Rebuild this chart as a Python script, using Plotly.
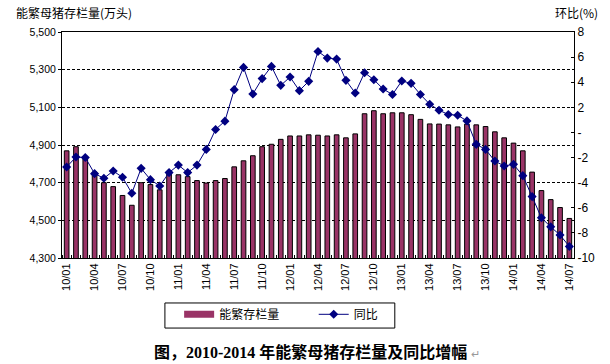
import plotly.graph_objects as go

# 能繁母猪存栏量 (万头), 2010/01 - 2014/07 monthly
HERD = [4869, 4891, 4838, 4757, 4700, 4679, 4632, 4580, 4700, 4690,
        4662, 4750, 4742, 4732, 4711, 4698, 4711, 4722, 4784, 4816,
        4843, 4891, 4904, 4930, 4948, 4948, 4954, 4952, 4948, 4954,
        4938, 4959, 5066, 5082, 5066, 5071, 5071, 5061, 5036, 5012,
        5011, 5007, 4996, 5011, 5007, 4998, 4970, 4938, 4910, 4869,
        4756, 4658, 4610, 4568, 4510]

# 环比 (%)
MOM = [-2.75, -1.96, -2.0, -3.28, -3.65, -3.07, -3.57, -4.84, -2.86, -3.76,
       -4.26, -3.2, -2.6, -3.2, -2.6, -1.35, 0.24, 0.9, 3.41, 5.18,
       3.06, 4.29, 5.26, 3.75, 4.41, 3.33, 4.07, 6.45, 5.92, 5.84,
       4.15, 3.14, 4.76, 4.2, 3.46, 3.02, 4.1, 3.91, 3.02, 2.25,
       1.77, 1.43, 1.37, 0.92, -0.95, -1.35, -2.28, -2.67, -2.54, -3.44,
       -5.11, -6.8, -7.52, -8.17, -9.08]

TICK_LABELS = ["10/01", "10/04", "10/07", "10/10", "11/01", "11/04", "11/07",
               "11/10", "12/01", "12/04", "12/07", "12/10", "13/01", "13/04",
               "13/07", "13/10", "14/01", "14/04", "14/07"]

LEFT_TICKS = [4300, 4500, 4700, 4900, 5100, 5300, 5500]
RIGHT_TICKS = [8, 6, 4, 2, 0, -2, -4, -6, -8, -10]
RIGHT_TEXT = ["8", "6", "4", "2", "-", "-2", "-4", "-6", "-8", "-10"]

BAR_NAME = "能繁存栏量"
LINE_NAME = "同比"

x = list(range(len(HERD)))
tickvals = x[::3]

BAR_COLOR = "#993366"
LINE_COLOR = "#000080"

fig = go.Figure()
fig.add_trace(go.Bar(
    x=x, y=HERD, name=BAR_NAME, showlegend=False,
    marker=dict(color=BAR_COLOR, line=dict(color="black", width=1)),
))
# legend entry with a wide rectangle swatch like the reference
fig.add_trace(go.Scatter(
    x=[None], y=[None], mode="lines",
    name=BAR_NAME + "&nbsp;" * 11,
    line=dict(color=BAR_COLOR, width=7),
))
fig.add_trace(go.Scatter(
    x=x, y=MOM, name=LINE_NAME, yaxis="y2", mode="lines+markers",
    line=dict(color=LINE_COLOR, width=1),
    marker=dict(symbol="diamond", size=7, color=LINE_COLOR),
))

font_num = "Liberation Sans, Arial, sans-serif"
font_cjk = "Noto Sans CJK SC, sans-serif"

fig.update_layout(
    width=610, height=364,
    margin=dict(l=62, r=36, t=32, b=106),
    paper_bgcolor="white", plot_bgcolor="white",
    bargap=0.5,
    showlegend=True,
    legend=dict(
        orientation="h", x=0.428, xanchor="center", y=-0.185, yanchor="top",
        borderwidth=0, bgcolor="rgba(0,0,0,0)",
        font=dict(family=font_cjk, size=12, color="black"),
        itemwidth=30, tracegroupgap=0,
    ),
    shapes=[
        dict(type="rect", xref="paper", yref="paper",
             x0=0.201, x1=0.650, y0=-0.310, y1=-0.199,
             line=dict(color="black", width=1), fillcolor="rgba(0,0,0,0)",
             layer="above"),
    ],
    xaxis=dict(
        range=[-0.5, len(HERD) - 0.5],
        tickmode="array", tickvals=tickvals, ticktext=TICK_LABELS,
        tickangle=-90, ticks="",
        tickfont=dict(family=font_num, size=11, color="black"),
        showline=True, linecolor="black", linewidth=1, mirror=True,
        showgrid=False, zeroline=False,
        minor=dict(tickmode="array",
                   tickvals=[i - 0.5 for i in range(len(HERD) + 1)],
                   ticks="inside", ticklen=3, tickcolor="black", showgrid=False),
    ),
    yaxis=dict(
        range=[4300, 5500], tickmode="array", tickvals=LEFT_TICKS,
        tickformat=",", ticks="outside", ticklen=3, tickcolor="black",
        tickfont=dict(family=font_num, size=10.5, color="black"),
        showline=True, linecolor="black", linewidth=1, mirror=True,
        showgrid=True, gridcolor="black", gridwidth=1, griddash="3px,2px",
        zeroline=False,
    ),
    yaxis2=dict(
        range=[-10, 8], overlaying="y", side="right",
        tickmode="array", tickvals=RIGHT_TICKS, ticktext=RIGHT_TEXT,
        ticks="inside", ticklen=3, tickcolor="black",
        tickfont=dict(family=font_num, size=12, color="black"),
        showline=True, linecolor="black", linewidth=1,
        showgrid=False, zeroline=False,
    ),
    annotations=[
        dict(text="能繁母猪存栏量(万头)", xref="paper", yref="paper",
             x=-0.094, y=1.088, xanchor="left", yanchor="middle",
             showarrow=False, font=dict(family=font_cjk, size=12, color="black")),
        dict(text="环比(%)", xref="paper", yref="paper",
             x=1.051, y=1.088, xanchor="right", yanchor="middle",
             showarrow=False, font=dict(family=font_cjk, size=12, color="black")),
        dict(text="<b>图，2010-2014 年能繁母猪存栏量及同比增幅</b> <span style='color:#999999;font-size:11px'>↵</span>",
             xref="paper", yref="paper",
             x=0.498, y=-0.416, xanchor="center", yanchor="middle",
             showarrow=False,
             font=dict(family="Liberation Serif, Noto Sans CJK SC, serif", size=16, color="black")),
    ],
)

# remove the default 8px page margin so the figure fills the window exactly
fig.write_html("out.html", config={"displayModeBar": False},
               post_script="document.body.style.margin='0px';")
